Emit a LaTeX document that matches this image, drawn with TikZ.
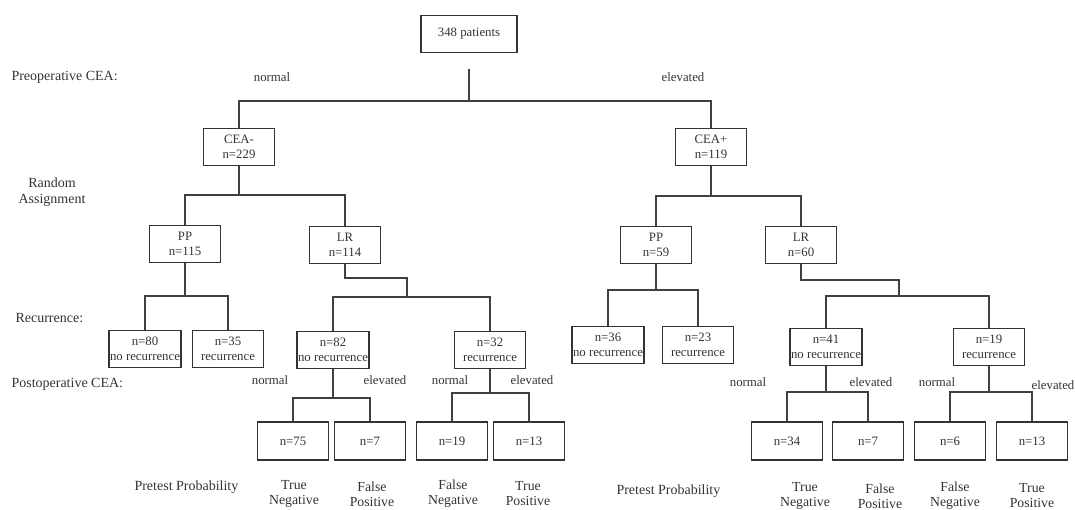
\documentclass[tikz,border=0pt]{standalone}
\usepackage{fontspec}
\setmainfont{Liberation Serif}
\usetikzlibrary{positioning}

\begin{document}
\begin{tikzpicture}[
    x=1pt, y=-1pt,
    box/.style={draw, line width=1.2pt, minimum width=71pt, minimum height=37pt,
    align=center, inner sep=1pt, font=\fontsize{12.8}{15.5}\selectfont},
    leaf/.style={box, minimum height=38pt},
    branch/.style={line width=1.2pt, color=black!75},
    level/.style={anchor=west, font=\fontsize{14}{16}\selectfont},
    cea/.style={font=\fontsize{12.8}{15}\selectfont},
    outcome/.style={align=center, font=\fontsize{13.8}{15}\selectfont},
    every node/.style={color=black!80}
    ]

\useasboundingbox (0,0) rectangle (1075,510);

% row labels
\node[level] (prelab) at (8,77) {Preoperative CEA:};
\node[level, align=center, anchor=center] (randlab) at (52,192) {Random\\Assignment};
\node[level] (reclab) at (12,318) {Recurrence:};
\node[level] (postlab) at (8,384) {Postoperative CEA:};
\node[level] (pretestneg) at (131,487) {Pretest Probability};
\node[level] (pretestpos) at (613,491) {Pretest Probability};

% root
\node[box, minimum width=96pt] (patients) at (469,34) {348 patients};
\node[cea] (prenormal) at (272,77) {normal};
\node[cea] (preelevated) at (683,77) {elevated};

\node[box] (ceaneg) at (239,147) {CEA-\\n=229};
\node[box] (ceapos) at (711,147) {CEA+\\n=119};
\coordinate (pre) at (469,101);
\draw[branch, shorten <=16pt] (patients) -- (pre);
\draw[branch] (ceaneg) |- (pre) -| (ceapos);

% random assignment
\node[box] (ppneg) at (185,244) {PP\\n=115};
\node[box] (lrneg) at (345,245) {LR\\n=114};
\node[box] (pppos) at (656,245) {PP\\n=59};
\node[box] (lrpos) at (801,245) {LR\\n=60};
\coordinate (randneg) at (239,195);
\coordinate (randpos) at (711,196);
\draw[branch] (ceaneg) -- (randneg);
\draw[branch] (ppneg) |- (randneg) -| (lrneg);
\draw[branch] (ceapos) -- (randpos);
\draw[branch] (pppos) |- (randpos) -| (lrpos);

% recurrence
\node[box] (nA) at (145,349) {n=80\\no recurrence};
\node[box] (nB) at (228,349) {n=35\\recurrence};
\node[box] (nC) at (333,350) {n=82\\no recurrence};
\node[box] (nD) at (490,350) {n=32\\recurrence};
\node[box] (nE) at (608,345) {n=36\\no recurrence};
\node[box] (nF) at (698,345) {n=23\\recurrence};
\node[box] (nG) at (826,347) {n=41\\no recurrence};
\node[box] (nH) at (989,347) {n=19\\recurrence};

\coordinate (recppneg) at (185,296);
\draw[branch] (ppneg) -- (recppneg);
\draw[branch] (nA) |- (recppneg) -| (nB);
\coordinate (jogneg) at (407,278);
\coordinate (reclrneg) at (407,297);
\draw[branch] (lrneg) |- (jogneg) -- (reclrneg);
\draw[branch] (nC) |- (reclrneg) -| (nD);

\coordinate (recpppos) at (656,290);
\draw[branch] (pppos) -- (recpppos);
\draw[branch] (nE) |- (recpppos) -| (nF);
\coordinate (jogpos) at (899,280);
\coordinate (reclrpos) at (899,296);
\draw[branch] (lrpos) |- (jogpos) -- (reclrpos);
\draw[branch] (nG) |- (reclrpos) -| (nH);

% postoperative CEA
\node[cea] (normA) at (270,380) {normal};
\node[cea] (elevA) at (385,380) {elevated};
\node[cea] (normB) at (450,380) {normal};
\node[cea] (elevB) at (532,380) {elevated};
\node[cea] (normC) at (748,382) {normal};
\node[cea] (elevC) at (871,382) {elevated};
\node[cea] (normD) at (937,382) {normal};
\node[cea] (elevD) at (1053,385) {elevated};

\node[leaf] (tnneg) at (293,441) {n=75};
\node[leaf] (fpneg) at (370,441) {n=7};
\node[leaf] (fnneg) at (452,441) {n=19};
\node[leaf] (tpneg) at (529,441) {n=13};
\node[leaf] (tnpos) at (787,441) {n=34};
\node[leaf] (fppos) at (868,441) {n=7};
\node[leaf] (fnpos) at (950,441) {n=6};
\node[leaf] (tppos) at (1032,441) {n=13};

\coordinate (postC) at (333,398);
\coordinate (postD) at (490,393);
\coordinate (postG) at (826,392);
\coordinate (postH) at (989,392);
\draw[branch] (nC) -- (postC);
\draw[branch] (tnneg) |- (postC) -| (fpneg);
\draw[branch] (nD) -- (postD);
\draw[branch] (fnneg) |- (postD) -| (tpneg);
\draw[branch] (nG) -- (postG);
\draw[branch] (tnpos) |- (postG) -| (fppos);
\draw[branch] (nH) -- (postH);
\draw[branch] (fnpos) |- (postH) -| (tppos);

% pretest probability
\node[outcome] (outA) at (294,494) {True\\Negative};
\node[outcome] (outB) at (372,494) {False\\Positive};
\node[outcome] (outC) at (453,494) {False\\Negative};
\node[outcome] (outD) at (528,494) {True\\Positive};
\node[outcome] (outE) at (805,496) {True\\Negative};
\node[outcome] (outF) at (880,496) {False\\Positive};
\node[outcome] (outG) at (955,496) {False\\Negative};
\node[outcome] (outH) at (1032,496) {True\\Positive};

\end{tikzpicture}
\end{document}
